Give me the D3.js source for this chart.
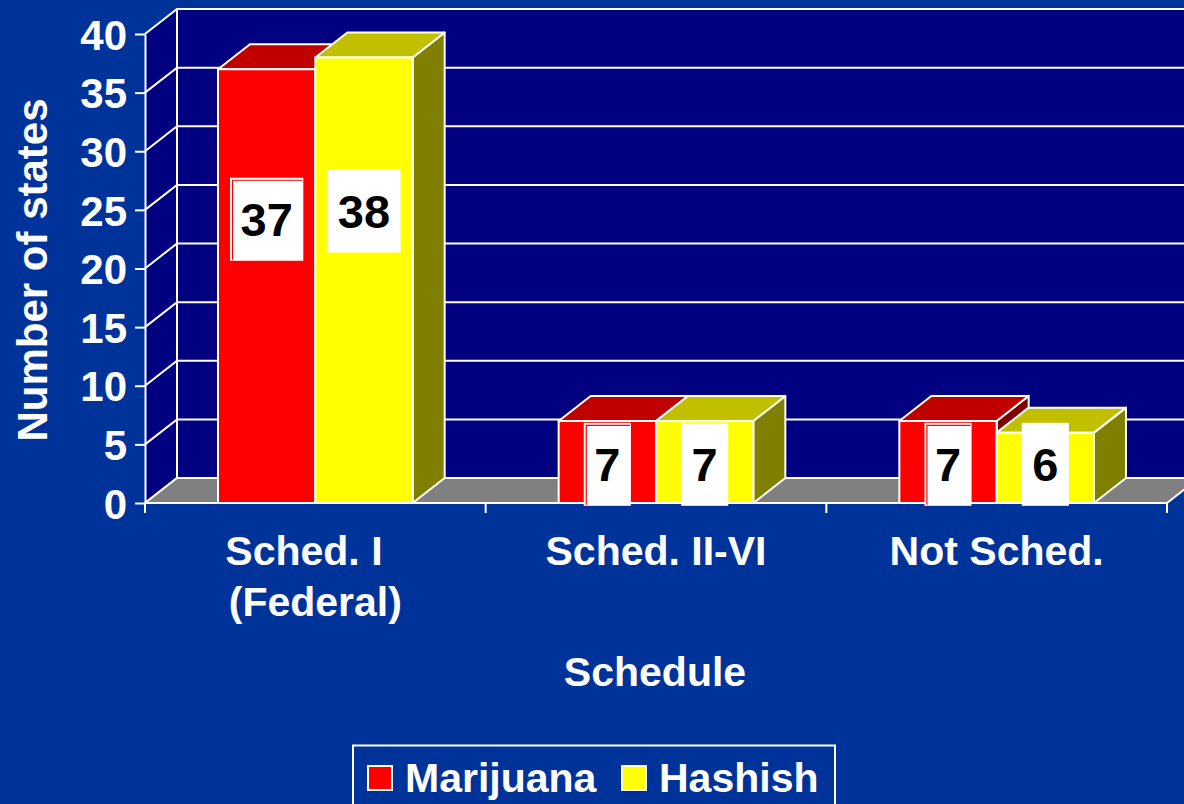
<!DOCTYPE html>
<html>
<head>
<meta charset="utf-8">
<script src="https://cdn.jsdelivr.net/npm/d3@7"></script>
<style>
  html, body { margin: 0; padding: 0; background: #003399; }
  svg { display: block; }
  text { font-family: "Liberation Sans", Arial, Helvetica, sans-serif; font-weight: bold; }
</style>
</head>
<body>
<svg id="chart" width="1184" height="804"></svg>
<script>
// ---- data ----
const categories = ["Sched. I|(Federal)", "Sched. II-VI", "Not Sched."];
const seriesNames = ["Marijuana", "Hashish"];
const marijuana = [37, 7, 7];
const hashish = [38, 7, 6];
const yTicks = [0, 5, 10, 15, 20, 25, 30, 35, 40];
const yTitle = "Number of states";
const xTitle = "Schedule";

// ---- styles ----
const C = {
  bg: "#003399", wall: "#000080", floor: "#808080", line: "#ffffff",
  front: ["#ff0000", "#ffff00"],
  top: ["#c00000", "#c0c000"],
  side: ["#800000", "#808000"]
};
const DX = 32, DY = 25; // 3D depth offsets

const svg = d3.select("#chart");
svg.append("rect").attr("width", 1184).attr("height", 804).attr("fill", C.bg);

const x = d3.scaleBand().domain(categories).range([145, 1167]).padding(0);
const xs = d3.scaleBand().domain(seriesNames).range([0, x.bandwidth()]).paddingInner(0).paddingOuter(0.75);
const y = d3.scaleLinear().domain([0, 40]).range([503, 34]);

const x0 = x.range()[0], x1 = x.range()[1];
const yTop = y(40), yBase = y(0);

// left wall
svg.append("path")
  .attr("d", `M${x0},${yTop}L${x0 + DX},${yTop - DY}L${x0 + DX},${yBase - DY}L${x0},${yBase}Z`)
  .attr("fill", C.wall);
// back wall
svg.append("rect")
  .attr("x", x0 + DX).attr("y", yTop - DY)
  .attr("width", x1 - x0 + 40).attr("height", yBase - yTop)
  .attr("fill", C.wall);

// gridlines
const grid = svg.append("g").attr("stroke", C.line).attr("stroke-width", 2).attr("fill", "none");
yTicks.forEach(v => {
  grid.append("path").attr("d", `M${x0},${y(v)}L${x0 + DX},${y(v) - DY}H${x1 + DX + 10}`);
});
grid.append("path").attr("d", `M${x0 + DX},${yTop - DY}V${yBase - DY}`);

// floor
svg.append("path")
  .attr("d", `M${x0},${yBase}L${x1},${yBase}L${x1 + DX},${yBase - DY}L${x0 + DX},${yBase - DY}Z`)
  .attr("fill", C.floor).attr("stroke", C.line).attr("stroke-width", 2).attr("stroke-linejoin", "round");

// bars
const seriesVals = [marijuana, hashish];
const barsG = svg.append("g").attr("stroke", C.line).attr("stroke-width", 2).attr("stroke-linejoin", "round");
categories.forEach((cat, ci) => {
  seriesNames.forEach((s, si) => {
    const v = seriesVals[si][ci];
    const bx0 = x(cat) + xs(s), bx1 = bx0 + xs.bandwidth();
    const yv = y(v), y0 = y(0);
    const g = barsG.append("g");
    g.append("path")
      .attr("d", `M${bx1},${yv}L${bx1 + DX},${yv - DY}L${bx1 + DX},${y0 - DY}L${bx1},${y0}Z`)
      .attr("fill", C.side[si]);
    g.append("path")
      .attr("d", `M${bx0},${yv}L${bx0 + DX},${yv - DY}L${bx1 + DX},${yv - DY}L${bx1},${yv}Z`)
      .attr("fill", C.top[si]);
    g.append("rect")
      .attr("x", bx0).attr("y", yv).attr("width", bx1 - bx0).attr("height", y0 - yv)
      .attr("fill", C.front[si]);
  });
});

// y axis
const yAxis = svg.append("g")
  .attr("transform", `translate(${x0},0)`)
  .call(d3.axisLeft(y).tickValues(yTicks).tickSize(10).tickSizeOuter(0).tickPadding(8));
yAxis.select(".domain").attr("stroke", C.line).attr("stroke-width", 2);
yAxis.selectAll(".tick line").attr("stroke", C.line).attr("stroke-width", 2);
yAxis.selectAll(".tick text").attr("fill", "#fff").attr("font-size", 42)
  .attr("dy", "0.36em")
  .style("font-family", "'Liberation Sans', Arial, sans-serif").style("font-weight", "bold");

// x axis ticks at band boundaries
const xt = svg.append("g").attr("stroke", C.line).attr("stroke-width", 2);
const boundaries = categories.map(c => x(c)).concat([x1]);
boundaries.forEach(b => xt.append("line").attr("x1", b).attr("x2", b).attr("y1", yBase).attr("y2", yBase + 10));

// category labels
categories.forEach(cat => {
  const lines = cat.split("|");
  const t = svg.append("text").attr("fill", "#fff").attr("font-size", 41)
    .attr("text-anchor", "middle").style("white-space", "pre");
  lines.forEach((ln, i) => {
    t.append("tspan").attr("x", x(cat) + x.bandwidth() / 2)
      .attr("y", 565 + i * 51)
      .text(lines.length > 1 && i === 0 ? ln + "  " : ln);
  });
});

// axis titles
svg.append("text").attr("fill", "#fff").attr("font-size", 41).attr("text-anchor", "middle")
  .attr("x", 655).attr("y", 686).text(xTitle);
svg.append("text").attr("fill", "#fff").attr("font-size", 42).attr("text-anchor", "middle")
  .attr("transform", "translate(47,270) rotate(-90)").text(yTitle);

// data labels
const labG = svg.append("g");
categories.forEach((cat, ci) => {
  seriesNames.forEach((s, si) => {
    const v = seriesVals[si][ci];
    const cx = x(cat) + xs(s) + xs.bandwidth() / 2;
    const cy = y(Math.max(3.3, 0.7 * v - 1.7));
    const g = labG.append("g");
    const rect = g.append("rect").attr("fill", "#fff");
    const t = g.append("text").attr("font-size", 47).attr("fill", "#000")
      .attr("text-anchor", "middle").attr("x", cx).attr("y", cy + 0.358 * 47).text(v);
    const w = t.node().getComputedTextLength() + 21, h = 83;
    rect.attr("x", cx - w / 2).attr("y", cy - h / 2).attr("width", w).attr("height", h);
    if (si === 0) {
      g.insert("path", "text")
        .attr("d", `M${cx - w / 2 + 2.5},${cy + h / 2 - 1}V${cy - h / 2 + 2.5}H${cx + w / 2 - 1}`)
        .attr("fill", "none").attr("stroke", C.front[0]).attr("stroke-width", 1.2);
    }
  });
});

// legend
const lg = svg.append("g");
lg.append("rect").attr("x", 353).attr("y", 745.5).attr("width", 482).attr("height", 70)
  .attr("fill", C.bg).attr("stroke", C.line).attr("stroke-width", 2);
const legX = [367, 621];
seriesNames.forEach((s, i) => {
  lg.append("rect").attr("x", legX[i] + 1).attr("y", 766).attr("width", 24).attr("height", 24)
    .attr("fill", C.front[i]).attr("stroke", C.line).attr("stroke-width", 2);
  lg.append("text").attr("x", legX[i] + 38).attr("y", 792).attr("font-size", 41)
    .attr("fill", "#fff").text(s);
});
</script>
</body>
</html>
